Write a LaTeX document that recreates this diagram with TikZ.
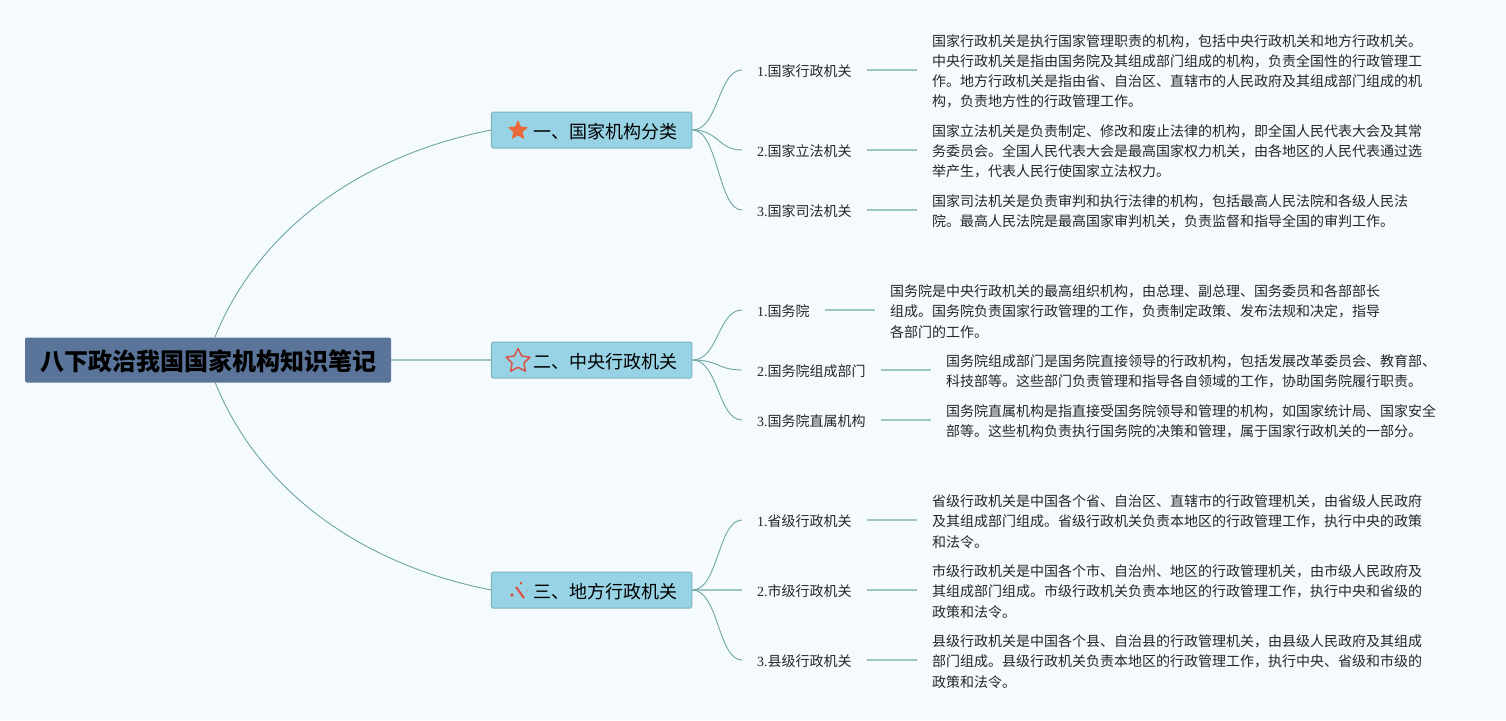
\documentclass[tikz,border=0pt]{standalone}
\usepackage{fontspec}
\setmainfont{Liberation Serif}
\newfontfamily\cjk{Noto Sans CJK SC}
\usetikzlibrary{positioning}
\usetikzlibrary{shapes.geometric}
\definecolor{paperblue}{HTML}{F5FAFF}
\definecolor{rootblue}{HTML}{5B7499}
\definecolor{branchblue}{HTML}{97D3E5}
\definecolor{branchedge}{HTML}{7DB4B8}
\definecolor{curveteal}{HTML}{6FA69F}
\definecolor{stemteal}{HTML}{9FC5C0}
\definecolor{starorange}{HTML}{E8693A}
\definecolor{starred}{HTML}{DB5147}
\newcommand{\lowered}[1]{\raisebox{-1.5pt}[\height][\depth]{#1}}
\begin{document}
\begin{tikzpicture}[x=1pt,y=-1pt]
	\tikzset{root/.style = {shape=rectangle,rounded corners=2pt,fill=rootblue,minimum width=366pt,minimum height=45pt,inner sep=0pt,font=\cjk\bfseries\fontsize{24}{28}\selectfont}}
	\tikzset{branch/.style = {shape=rectangle,rounded corners=1.5pt,fill=branchblue,draw=branchedge,line width=1pt,minimum height=36pt,inner xsep=14.25pt,inner ysep=0pt,text width=172pt,align=right,font=\cjk\fontsize{18}{22}\selectfont}}
	\tikzset{subject/.style = {anchor=west,inner xsep=15pt,inner ysep=2pt,text=black!85,font=\fontsize{14}{18}\selectfont}}
	\tikzset{para/.style = {right=50pt of #1,yshift=-1.5pt,inner xsep=15pt,inner ysep=0pt,align=left,text=black!85,font=\cjk\fontsize{14}{20.2}\selectfont}}
	\tikzset{curve/.style = {curveteal,line width=.9pt}}
	\tikzset{stem/.style = {stemteal,line width=1.2pt}}
	\fill[paperblue] (0,0) rectangle (1506,720);
	\useasboundingbox (0,0) rectangle (1506,720);

	\node[root] (ROOT) at (208,360) {\lowered{八下政治我国国家机构知识笔记}};
	\coordinate (ROOTUP) at (215,337);
	\coordinate (ROOTDOWN) at (215,382);

	\node[branch] (ONE) at (591.7,130) {\lowered{一、国家机构分类}};
	\node[branch] (TWO) at (591.7,360) {\lowered{二、中央行政机关}};
	\node[branch] (THREE) at (591.7,590) {\lowered{三、地方行政机关}};

	\node[star,star points=5,star point ratio=2.2,fill=starorange,draw=starorange,line join=round,line width=1pt,minimum size=19pt,inner sep=0pt] (ICONONE) at (518,130.5) {};
	\node[star,star points=5,star point ratio=2.0,draw=starred,line join=round,line width=1.5pt,minimum size=25pt,inner sep=0pt] (ICONTWO) at (518,361) {};
	\coordinate (WANDA) at (516,587);
	\coordinate (WANDB) at (524,598);
	\draw[starred,line width=2.2pt] (WANDA) -- (WANDB);
	\fill[starred] (521,583) circle (1.5) (512,595) circle (1.9) (527,591) circle (.7);

	\node[subject] (ONEA) at (742,70) {\lowered{1.{\cjk 国家行政机关}}};
	\node[subject] (ONEB) at (742,150) {\lowered{2.{\cjk 国家立法机关}}};
	\node[subject] (ONEC) at (742,210) {\lowered{3.{\cjk 国家司法机关}}};
	\node[subject] (TWOA) at (742,310) {\lowered{1.{\cjk 国务院}}};
	\node[subject] (TWOB) at (742,370) {\lowered{2.{\cjk 国务院组成部门}}};
	\node[subject] (TWOC) at (742,420) {\lowered{3.{\cjk 国务院直属机构}}};
	\node[subject] (THREEA) at (742,520) {\lowered{1.{\cjk 省级行政机关}}};
	\node[subject] (THREEB) at (742,590) {\lowered{2.{\cjk 市级行政机关}}};
	\node[subject] (THREEC) at (742,660) {\lowered{3.{\cjk 县级行政机关}}};

	\node[para=ONEA] (TEXTONEA) {国家行政机关是执行国家管理职责的机构，包括中央行政机关和地方行政机关。\\
		中央行政机关是指由国务院及其组成部门组成的机构，负责全国性的行政管理工\\
		作。地方行政机关是指由省、自治区、直辖市的人民政府及其组成部门组成的机\\
		构，负责地方性的行政管理工作。};
	\node[para=ONEB] (TEXTONEB) {国家立法机关是负责制定、修改和废止法律的机构，即全国人民代表大会及其常\\
		务委员会。全国人民代表大会是最高国家权力机关，由各地区的人民代表通过选\\
		举产生，代表人民行使国家立法权力。};
	\node[para=ONEC] (TEXTONEC) {国家司法机关是负责审判和执行法律的机构，包括最高人民法院和各级人民法\\
		院。最高人民法院是最高国家审判机关，负责监督和指导全国的审判工作。};
	\node[para=TWOA] (TEXTTWOA) {国务院是中央行政机关的最高组织机构，由总理、副总理、国务委员和各部部长\\
		组成。国务院负责国家行政管理的工作，负责制定政策、发布法规和决定，指导\\
		各部门的工作。};
	\node[para=TWOB] (TEXTTWOB) {国务院组成部门是国务院直接领导的行政机构，包括发展改革委员会、教育部、\\
		科技部等。这些部门负责管理和指导各自领域的工作，协助国务院履行职责。};
	\node[para=TWOC] (TEXTTWOC) {国务院直属机构是指直接受国务院领导和管理的机构，如国家统计局、国家安全\\
		部等。这些机构负责执行国务院的决策和管理，属于国家行政机关的一部分。};
	\node[para=THREEA] (TEXTTHREEA) {省级行政机关是中国各个省、自治区、直辖市的行政管理机关，由省级人民政府\\
		及其组成部门组成。省级行政机关负责本地区的行政管理工作，执行中央的政策\\
		和法令。};
	\node[para=THREEB] (TEXTTHREEB) {市级行政机关是中国各个市、自治州、地区的行政管理机关，由市级人民政府及\\
		其组成部门组成。市级行政机关负责本地区的行政管理工作，执行中央和省级的\\
		政策和法令。};
	\node[para=THREEC] (TEXTTHREEC) {县级行政机关是中国各个县、自治县的行政管理机关，由县级人民政府及其组成\\
		部门组成。县级行政机关负责本地区的行政管理工作，执行中央、省级和市级的\\
		政策和法令。};

	\draw[curve] (ROOTUP) .. controls (255,238) and (350,158) .. (ONE.west);
	\draw[curve] (ROOTDOWN) .. controls (255,482) and (350,562) .. (THREE.west);
	\draw[stem] (ROOT.east) -- (TWO.west);
	\draw[stem] (THREE.east) -- (THREEB.west);

	\foreach \from/\to in {ONE/ONEA,ONE/ONEB,ONE/ONEC,TWO/TWOA,TWO/TWOB,TWO/TWOC,THREE/THREEA,THREE/THREEC}
		\draw[curve] (\from.east) .. controls +(26,0) and +(-24,0) .. (\to.west);
	\foreach \to in {ONEA,ONEB,ONEC,TWOA,TWOB,TWOC,THREEA,THREEB,THREEC}
		\draw[stem] (\to.east) -- (\to.east -| TEXT\to.west);
\end{tikzpicture}
\end{document}
